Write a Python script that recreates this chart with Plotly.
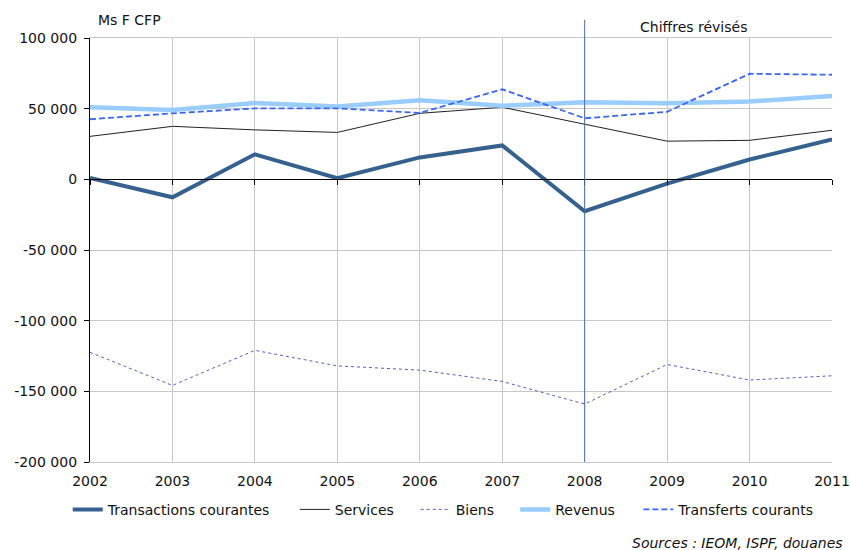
import plotly.graph_objects as go

years = [2002, 2003, 2004, 2005, 2006, 2007, 2008, 2009, 2010, 2011]
transactions = [1000, -12700, 17700, 800, 15500, 24000, -22600, -3000, 14000, 28300]
services = [30400, 37500, 35000, 33200, 46700, 51000, 39000, 27000, 27600, 34700]
biens = [-122400, -145800, -121000, -132000, -135000, -143000, -159000, -131000, -142000, -139000]
revenus = [51000, 49000, 54000, 51500, 56000, 52000, 54500, 53800, 55000, 59000]
transferts = [42500, 46700, 50200, 50200, 47000, 63700, 43200, 47800, 74700, 74000]

y_ticks = [100000, 50000, 0, -50000, -100000, -150000, -200000]
y_tick_text = ["100 000", "50 000", "0", "-50 000", "-100 000", "-150 000", "-200 000"]

FONT = "DejaVu Sans"

fig = go.Figure()
fig.add_trace(go.Scatter(x=years, y=transactions, name="Transactions courantes", mode="lines",
                         line=dict(color="#36618f", width=4), legend="legend"))
fig.add_trace(go.Scatter(x=years, y=services, name="Services", mode="lines",
                         line=dict(color="#222222", width=1), legend="legend2"))
fig.add_trace(go.Scatter(x=years, y=biens, name="Biens", mode="lines",
                         line=dict(color="#5a5ac8", width=1, dash="dot"), legend="legend3"))
fig.add_trace(go.Scatter(x=years, y=revenus, name="Revenus", mode="lines",
                         line=dict(color="#99ccff", width=4.5), legend="legend4"))
fig.add_trace(go.Scatter(x=years, y=transferts, name="Transferts courants", mode="lines",
                         line=dict(color="#3a66f0", width=1.8, dash="6px,3px"), legend="legend5"))

# tick marks along the zero line
fig.add_trace(go.Scatter(x=years, y=[None] * len(years), xaxis="x2", showlegend=False,
                         hoverinfo="skip"))

# one legend box per entry so each entry sits at its own place in the row
legend_x = [-0.03, 0.276, 0.439, 0.573, 0.739]
legend_common = dict(orientation="h", y=-0.075, yanchor="top", xanchor="left",
                     font=dict(size=14), bgcolor="rgba(0,0,0,0)")
legends = {}
for i, lx in enumerate(legend_x):
    key = "legend" if i == 0 else f"legend{i + 1}"
    legends[key] = dict(x=lx, **legend_common)

fig.update_layout(
    width=850, height=550,
    margin=dict(l=90, r=18, t=38, b=88, autoexpand=False),
    paper_bgcolor="white", plot_bgcolor="white",
    font=dict(family=FONT, size=14, color="#111111"),
    showlegend=True,
    **legends,
    xaxis=dict(range=[2002, 2011], tickvals=years, showgrid=True, gridcolor="#c8c8c8",
               gridwidth=1, showline=True, linecolor="#c8c8c8", mirror=True,
               ticks="outside", ticklen=6, tickcolor="rgba(0,0,0,0)", automargin=False,
               zeroline=False, tickfont=dict(size=14)),
    xaxis2=dict(range=[2002, 2011], tickvals=years, overlaying="x", anchor="free",
                position=2 / 3, side="bottom", showgrid=False, showline=True,
                linecolor="black", linewidth=1.2, ticks="outside", ticklen=5,
                tickcolor="black", showticklabels=False, zeroline=False, automargin=False),
    yaxis=dict(range=[-200000, 100000], tickvals=y_ticks, ticktext=y_tick_text,
               showgrid=True, gridcolor="#c8c8c8", gridwidth=1, showline=True,
               linecolor="black", linewidth=1.2, ticks="outside", ticklen=5,
               tickcolor="black", zeroline=False, tickfont=dict(size=14),
               ticklabelstandoff=4, automargin=False),
    shapes=[
        dict(type="line", xref="x", yref="paper", x0=2008, x1=2008, y0=0, y1=1.043,
             line=dict(color="#4a6f9e", width=1)),
    ],
    annotations=[
        dict(text="Ms F CFP", xref="paper", yref="paper", x=0.008, y=1.043,
             xanchor="left", yanchor="middle", showarrow=False, font=dict(size=14)),
        dict(text="Chiffres révisés", xref="paper", yref="paper", x=0.813, y=1.026,
             xanchor="center", yanchor="middle", showarrow=False, font=dict(size=14)),
        dict(text="<i>Sources : IEOM, ISPF, douanes</i>", xref="paper", yref="paper",
             x=1.017, y=-0.192, xanchor="right", yanchor="middle", showarrow=False,
             font=dict(size=14)),
    ],
)

fig.write_html("out.html")
